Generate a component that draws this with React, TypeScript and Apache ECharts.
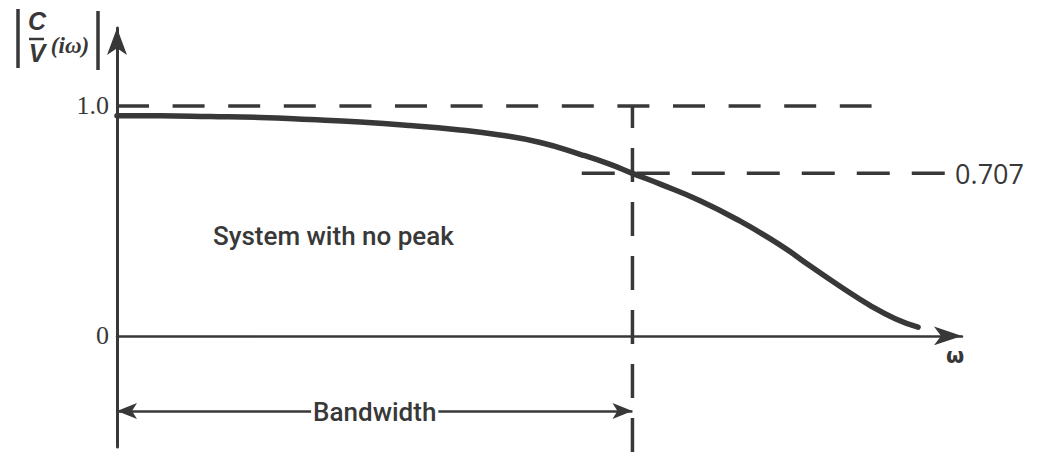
import React, { useEffect, useRef } from "react";
import * as echarts from "echarts";

// Frequency response of a system without a resonant peak.
// ω is in arbitrary units; magnitude is |C/V(iω)|.
const omega = [
  0, 0.51, 1.1, 1.69, 2.28, 2.88, 3.47, 4.0, 4.53, 5.01, 5.48, 5.83, 6.1, 6.43, 6.9, 7.37, 7.85, 8.2, 8.56, 8.91,
  9.21, 9.48,
];
const magnitude = [
  0.957, 0.957, 0.954, 0.95, 0.941, 0.93, 0.915, 0.898, 0.874, 0.841, 0.79, 0.747, 0.707, 0.66, 0.588, 0.5, 0.395,
  0.305, 0.215, 0.133, 0.075, 0.038,
];

const unity = 1.0;
const halfPower = 0.707;
const bandwidthOmega = 6.1;
const unityLineEnd = 8.93;
const halfPowerStart = 5.5;
const halfPowerEnd = 9.8;
const bandwidthArrowLevel = -0.326;
const bandwidthDropEnd = -0.56;

const yTickValues = [0, 1];
const yTickLabels = ["0", "1.0"];

const INK = "#383838";

export default function App() {
  const ref = useRef<HTMLDivElement>(null);

  useEffect(() => {
    if (!ref.current) return;
    const chart = echarts.init(ref.current, undefined, { renderer: "svg" });

    const curve = omega.map((w, i) => [w, magnitude[i]]);

    chart.setOption({
      animation: false,
      backgroundColor: "#ffffff",
      grid: { left: 117, right: 82, top: 28, bottom: 20 },
      xAxis: {
        type: "value",
        min: 0,
        max: 10,
        name: "ω",
        nameLocation: "end",
        nameGap: -7,
        nameTextStyle: {
          fontFamily: "DejaVu Sans",
          fontWeight: "bold",
          fontSize: 21,
          color: INK,
          align: "center",
          verticalAlign: "top",
          padding: [10, 0, 0, 0],
        },
        axisLine: {
          show: true,
          onZero: true,
          symbol: ["none", "arrow"],
          symbolSize: [14, 28],
          lineStyle: { color: INK, width: 2.5 },
        },
        axisTick: { show: false },
        axisLabel: { show: false },
        splitLine: { show: false },
      },
      yAxis: {
        type: "value",
        min: -0.483,
        max: 1.339,
        axisLine: {
          show: true,
          onZero: true,
          symbol: ["none", "arrow"],
          symbolSize: [15, 27],
          lineStyle: { color: INK, width: 3 },
        },
        axisTick: { show: false },
        splitLine: { show: false },
        axisLabel: {
          show: true,
          customValues: yTickValues,
          margin: 8,
          fontFamily: "Liberation Serif",
          fontSize: 26,
          color: INK,
          formatter: (v: number) => yTickLabels[yTickValues.indexOf(v)] ?? "",
        },
      },
      graphic: [
        // |C/V(iω)| axis title
        { type: "line", shape: { x1: 18, y1: 9, x2: 18, y2: 68 }, style: { stroke: INK, lineWidth: 3.5 } },
        { type: "line", shape: { x1: 98, y1: 11, x2: 98, y2: 70 }, style: { stroke: INK, lineWidth: 3.5 } },
        {
          type: "text",
          x: 37,
          y: 21,
          style: { text: "C", font: "italic bold 25px 'Liberation Sans'", fill: INK, align: "center", verticalAlign: "middle" },
        },
        { type: "line", shape: { x1: 29, y1: 39, x2: 44, y2: 39 }, style: { stroke: INK, lineWidth: 2.5 } },
        {
          type: "text",
          x: 37,
          y: 53,
          style: { text: "V", font: "italic bold 25px 'Liberation Sans'", fill: INK, align: "center", verticalAlign: "middle" },
        },
        {
          type: "text",
          x: 70,
          y: 45,
          style: { text: "(iω)", font: "italic bold 23px 'Liberation Serif'", fill: INK, align: "center", verticalAlign: "middle" },
        },
        {
          type: "text",
          x: 213,
          y: 236,
          style: {
            text: "System with no peak",
            font: "500 26px Roboto",
            fill: INK,
            align: "left",
            verticalAlign: "middle",
          },
        },
      ],
      series: [
        {
          name: "response",
          type: "line",
          data: curve,
          smooth: 0.5,
          symbol: "none",
          lineStyle: { color: INK, width: 5.5, cap: "round" },
          z: 5,
          markLine: {
            silent: true,
            symbol: ["arrow", "arrow"],
            symbolSize: [12, 20],
            lineStyle: { type: "solid", color: INK, width: 2.5 },
            label: {
              show: true,
              position: "middle",
              formatter: "Bandwidth",
              fontFamily: "Roboto",
              fontWeight: 500,
              fontSize: 26,
              color: INK,
              backgroundColor: "#ffffff",
              padding: [2, 2],
              distance: 0,
              offset: [0, 16],
            },
            data: [[{ coord: [0, bandwidthArrowLevel] }, { coord: [bandwidthOmega, bandwidthArrowLevel] }]],
          },
        },
        {
          name: "unity",
          type: "line",
          data: [
            [0, unity],
            [unityLineEnd, unity],
          ],
          symbol: "none",
          lineStyle: { color: INK, width: 3.5, type: [32, 23.6] },
        },
        {
          name: "bandwidth",
          type: "line",
          clip: false,
          data: [
            [bandwidthOmega, unity],
            [bandwidthOmega, bandwidthDropEnd],
          ],
          symbol: "none",
          lineStyle: { color: INK, width: 3.5, type: [34, 20], dashOffset: 12 },
        },
        {
          name: "halfPower",
          type: "line",
          data: [
            [halfPowerStart, halfPower],
            [halfPowerEnd, halfPower],
          ],
          symbol: "none",
          lineStyle: { color: INK, width: 3.5, type: [33, 22] },
          endLabel: {
            show: true,
            formatter: halfPower.toFixed(3),
            distance: 10,
            fontFamily: "Open Sans",
            fontSize: 27,
            color: INK,
          },
        },
      ],
    });

    return () => chart.dispose();
  }, []);

  return (
    <div
      ref={ref}
      style={{ position: "absolute", left: 0, top: 0, width: 1044, height: 467, background: "#fff" }}
    />
  );
}
